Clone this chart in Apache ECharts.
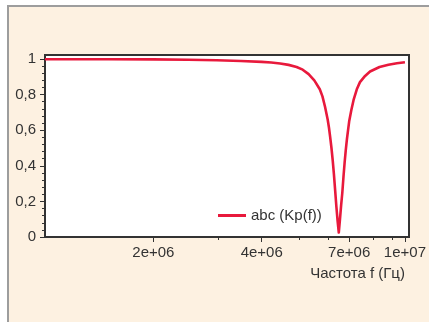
<!DOCTYPE html>
<html><head><meta charset="utf-8">
<script src="https://cdn.jsdelivr.net/npm/echarts@6/dist/echarts.min.js"></script>
<style>
html,body{margin:0;padding:0;background:#fff;width:429px;height:322px;overflow:hidden;}
#panel{position:absolute;left:7px;top:5px;right:0;bottom:0;background:#fdf1e1;border-top:2px solid #9d9d9d;border-left:2px solid #9d9d9d;}
#chart{position:absolute;left:0;top:0;width:429px;height:322px;}
</style></head><body>
<div id="panel"></div><div id="chart"></div>
<script>
// Frequency (Hz) and Kp(f) values
const frequencies = [1.0e6, 1.5e6, 2.0e6, 2.5e6, 3.0e6, 3.5e6, 4.0e6, 4.25e6, 4.5e6, 4.75e6, 5.0e6, 5.2e6, 5.4e6, 5.6e6, 5.8e6, 5.9e6, 6.0e6, 6.1e6, 6.15e6, 6.2e6, 6.25e6, 6.3e6, 6.35e6, 6.4e6, 6.45e6, 6.5e6, 6.55e6, 6.6e6, 6.65e6, 6.7e6, 6.75e6, 6.8e6, 6.85e6, 6.9e6, 6.95e6, 7.0e6, 7.1e6, 7.2e6, 7.35e6, 7.5e6, 7.75e6, 8.0e6, 8.5e6, 9.0e6, 9.5e6, 1.0e7];
const kpValues    = [0.999, 0.999, 0.998, 0.996, 0.993, 0.989, 0.984, 0.98, 0.975, 0.967, 0.955, 0.94, 0.915, 0.88, 0.83, 0.79, 0.73, 0.66, 0.615, 0.56, 0.50, 0.43, 0.35, 0.26, 0.17, 0.09, 0.025, 0.10, 0.18, 0.25, 0.34, 0.42, 0.49, 0.55, 0.60, 0.65, 0.715, 0.77, 0.83, 0.87, 0.905, 0.93, 0.955, 0.968, 0.976, 0.982];
const seriesName = 'abc (Kp(f))';
const xAxisTitle = 'Частота f (Гц)';
const xMajorTicks = [2e6, 4e6, 7e6, 1e7];
const xMinorTicks = [3e6, 5e6, 6e6, 8e6, 9e6];
const yMin = 0, yMax = 1, yStep = 0.2;

const FONT = "'Liberation Sans', Arial, sans-serif";
const TXT = '#333';
function sci(v) {
  const e = Math.floor(Math.log10(v) + 1e-9);
  const m = Math.round(v / Math.pow(10, e));
  return m + 'e+' + (e < 10 ? '0' + e : e);
}
function yFmt(v) {
  const r = Math.round(v * 10) / 10;
  if (r === 0 || r === 1) return String(r);
  return r.toFixed(1).replace('.', ',');
}

const chart = echarts.init(document.getElementById('chart'), null, {renderer: 'canvas'});
chart.setOption({
  animation: false,
  backgroundColor: 'transparent',
  grid: [
    {left: 45, right: 20, top: 55, bottom: 85, show: true, backgroundColor: '#fff', borderColor: '#333', borderWidth: 2, containLabel: false},
    {left: 45, right: 20, top: 59, bottom: 85, show: false, containLabel: false}
  ],
  legend: {
    left: 213, top: 203, itemWidth: 28, itemHeight: 14, itemGap: 6,
    textStyle: {fontFamily: FONT, fontSize: 15, color: TXT},
    data: [{name: seriesName, icon: 'path://M0,0L28,0L28,3L0,3Z'}],
    itemStyle: {color: '#e8193c'}
  },
  xAxis: [
    {gridIndex: 0, type: 'log', logBase: 10, min: 1e6, max: 1e7,
     axisLine: {show: false}, splitLine: {show: false}, minorTick: {show: false},
     axisLabel: {show: false},
     axisTick: {show: true, length: 3, customValues: xMinorTicks, lineStyle: {color: '#333', width: 1}}},
    {gridIndex: 1, type: 'log', logBase: 10, min: 1e6, max: 1e7,
     axisLine: {show: false}, splitLine: {show: false}, minorTick: {show: false},
     axisTick: {show: true, length: 5, customValues: xMajorTicks, lineStyle: {color: '#333', width: 1}},
     axisLabel: {customValues: xMajorTicks, formatter: sci, margin: 8, fontFamily: FONT, fontSize: 15, color: TXT, showMaxLabel: true, hideOverlap: false},
     name: xAxisTitle, nameLocation: 'end', nameGap: 0,
     nameTextStyle: {fontFamily: FONT, fontSize: 15, color: TXT, align: 'right', verticalAlign: 'top', padding: [29, 0, 0, 0]}}
  ],
  yAxis: [
    {gridIndex: 0, type: 'value', min: 0, max: 1, show: false, splitLine: {show: false}},
    {gridIndex: 1, type: 'value', min: yMin, max: yMax, interval: yStep,
     axisLine: {show: false}, splitLine: {show: false},
     axisTick: {show: true, length: 5, lineStyle: {color: '#333', width: 1}},
     minorTick: {show: true, splitNumber: 5, length: 3, lineStyle: {color: '#333', width: 1}},
     axisLabel: {formatter: yFmt, margin: 9, fontFamily: FONT, fontSize: 15, color: TXT}}
  ],
  series: [{
    name: seriesName, type: 'line', xAxisIndex: 1, yAxisIndex: 1,
    data: frequencies.map((f, i) => [f, kpValues[i]]),
    showSymbol: false, symbol: 'none', smooth: false,
    lineStyle: {color: '#e8193c', width: 2.6, join: 'round'},
    itemStyle: {color: '#e8193c'}
  }]
});
</script></body></html>
